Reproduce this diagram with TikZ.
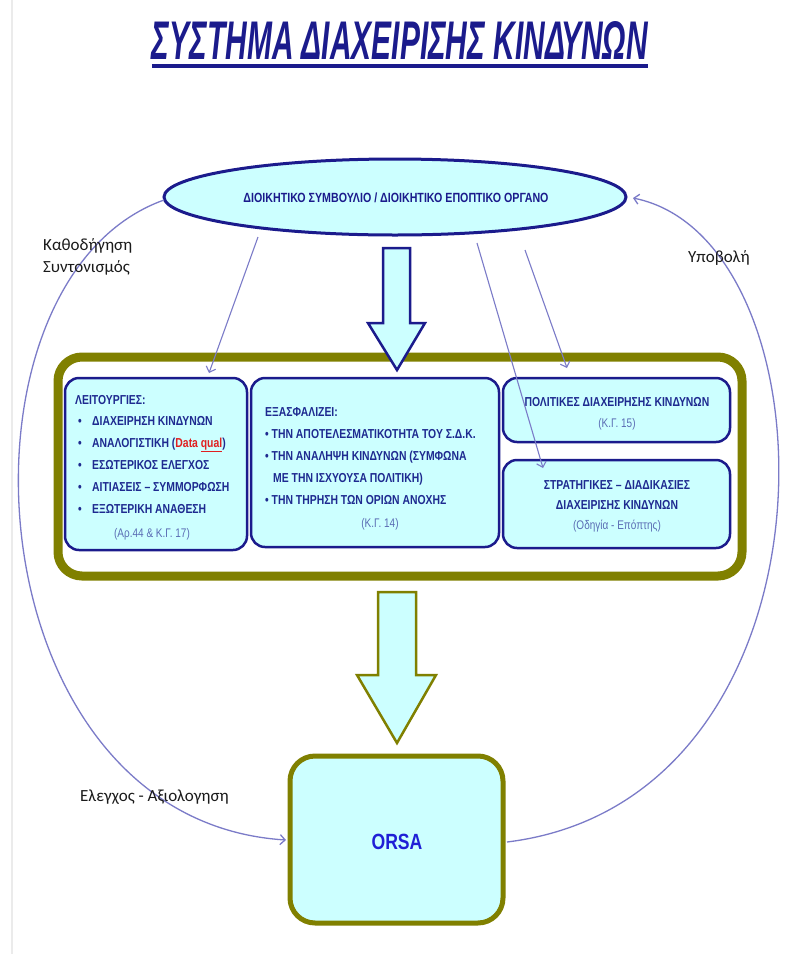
\documentclass[tikz,border=0pt]{standalone}
\usepackage{graphicx}
\usepackage{fontspec}
\setmainfont{Liberation Sans}
\newfontfamily\gfont[FakeStretch=0.8]{Liberation Sans}
\newfontfamily\lfont{Carlito}
\usetikzlibrary{shapes.geometric,arrows.meta}
\definecolor{navy}{HTML}{1B1B8C}
\definecolor{boxtxt}{HTML}{1E2A90}
\definecolor{lcyan}{HTML}{CCFFFF}
\definecolor{olive}{HTML}{808000}
\definecolor{refblue}{HTML}{5A6CB4}
\definecolor{conncol}{HTML}{7B7BC8}
\definecolor{orsablue}{HTML}{1F1FD6}
\definecolor{redtxt}{HTML}{E02020}
\definecolor{labtxt}{HTML}{1A1A1A}
\tikzset{
  inbox/.style={draw=navy, line width=2.5pt, fill=lcyan, rounded corners=14pt, inner sep=0pt},
  txt/.style={font=\fontsize{13}{13}\gfont\bfseries, text=boxtxt, inner sep=0pt},
  reftxt/.style={font=\fontsize{12.5}{12.5}\gfont, text=refblue, inner sep=0pt},
  conn/.style={draw=conncol, line width=1.3pt, -{Straight Barb[length=5pt,width=10pt]}},
  lab/.style={font=\fontsize{17}{22}\lfont, text=labtxt, inner sep=0pt, align=left},
  bigarrow/.style={line width=2.5pt, fill=lcyan, line join=miter}
}
\begin{document}
\begin{tikzpicture}[x=1pt,y=-1pt]
\useasboundingbox (0,0) rectangle (792,954);
\fill[white] (0,0) rectangle (792,954);
\draw[black!8, line width=1.5pt] (12,0) -- (12,954);

% title
\node[anchor=base, inner sep=0pt, text=navy] (title) at (400,59)
  {\resizebox{496pt}{38pt}{\bfseries\itshape ΣΥΣΤΗΜΑ ΔΙΑΧΕΙΡΙΣΗΣ ΚΙΝΔΥΝΩΝ}};
\draw[navy, line width=3.5pt] (title.south west) ++(0,7) coordinate (ul1) -- (title.south east |- ul1);

% ellipse
\node[ellipse, draw=navy, line width=3pt, fill=lcyan, minimum width=462pt, minimum height=76pt, inner sep=0pt] (E) at (395,197) {};
\node[inner sep=0pt, text=navy] (etext) at (396,198)
  {\resizebox{305pt}{!}{\fontsize{12}{12}\gfont\bfseries ΔΙΟΙΚΗΤΙΚΟ ΣΥΜΒΟΥΛΙΟ / ΔΙΟΙΚΗΤΙΚΟ ΕΠΟΠΤΙΚΟ ΟΡΓΑΝΟ}};

% ORSA box
\node[draw=olive, line width=5pt, fill=lcyan, rounded corners=25pt, minimum width=213pt, minimum height=167pt, inner sep=0pt] (orsa) at (396.5,839.5) {};
\node[font=\fontsize{22}{22}\gfont\bfseries, text=orsablue, inner sep=0pt] (orsatxt) at (397,842) {ORSA};

% curves
\coordinate (eW) at (164,200);
\coordinate (eE) at (633,198);
\coordinate (oW) at (286,840);
\coordinate (oE) at (507,842);
\draw[conn] (eW) .. controls (-60,280) and (-30,820) .. (oW);
\draw[conn] (oE) .. controls (850,800) and (840,240) .. (eE);

% labels
\node[lab, anchor=west] (l1) at (43,257) {Καθοδήγηση\\Συντονισμός};
\node[lab, anchor=west] (l2) at (80,797) {Ελεγχος - Αξιολογηση};
\node[lab, anchor=west] (l3) at (688,258) {Υποβολή};

% frame
\node[draw=olive, line width=9pt, fill=white, rounded corners=24pt, minimum width=684pt, minimum height=219pt, inner sep=0pt] (frame) at (400,466.5) {};

% inner boxes
\node[inbox, minimum width=182pt, minimum height=172pt] (A) at (156,464) {};
\node[inbox, minimum width=248pt, minimum height=169pt] (B) at (375,462.5) {};
\node[inbox, minimum width=227pt, minimum height=64pt] (C) at (616.5,410) {};
\node[inbox, minimum width=227pt, minimum height=88pt] (D) at (616.5,504) {};

% box A text
\node[txt, anchor=base west] (a0) at (75,404) {ΛΕΙΤΟΥΡΓΙΕΣ:};
\foreach \y/\t [count=\i] in {425/ΔΙΑΧΕΙΡΗΣΗ ΚΙΝΔΥΝΩΝ,
  447/{ΑΝΑΛΟΓΙΣΤΙΚΗ (\textcolor{redtxt}{Data \underline{qual}})},
  469/ΕΣΩΤΕΡΙΚΟΣ ΕΛΕΓΧΟΣ,
  491/ΑΙΤΙΑΣΕΙΣ – ΣΥΜΜΟΡΦΩΣΗ,
  513/ΕΞΩΤΕΡΙΚΗ ΑΝΑΘΕΣΗ}{
  \node[txt, anchor=base] (ab\i) at (80,\y) {•};
  \node[txt, anchor=base west] (a\i) at (92,\y) {\t};
}
\node[reftxt, anchor=base] (aref) at (152,537) {(Αρ.44 \& Κ.Γ. 17)};

% box B text
\node[txt, anchor=base west] (b0) at (265,416) {ΕΞΑΣΦΑΛΙΖΕΙ:};
\node[txt, anchor=base west] (b1) at (265,438) {• ΤΗΝ ΑΠΟΤΕΛΕΣΜΑΤΙΚΟΤΗΤΑ ΤΟΥ Σ.Δ.Κ.};
\node[txt, anchor=base west] (b2) at (265,460) {• ΤΗΝ ΑΝΑΛΗΨΗ ΚΙΝΔΥΝΩΝ (ΣΥΜΦΩΝΑ};
\node[txt, anchor=base west] (b3) at (273,482) {ΜΕ ΤΗΝ ΙΣΧΥΟΥΣΑ ΠΟΛΙΤΙΚΗ)};
\node[txt, anchor=base west] (b4) at (265,504) {• ΤΗΝ ΤΗΡΗΣΗ ΤΩΝ ΟΡΙΩΝ ΑΝΟΧΗΣ};
\node[reftxt, anchor=base] (bref) at (380,527) {(Κ.Γ. 14)};

% box C text
\node[txt, anchor=base] (c1) at (617,406) {ΠΟΛΙΤΙΚΕΣ ΔΙΑΧΕΙΡΗΣΗΣ ΚΙΝΔΥΝΩΝ};
\node[reftxt, anchor=base] (cref) at (617,427) {(Κ.Γ. 15)};

% box D text
\node[txt, anchor=base] (d1) at (617,489) {ΣΤΡΑΤΗΓΙΚΕΣ – ΔΙΑΔΙΚΑΣΙΕΣ};
\node[txt, anchor=base] (d2) at (617,509) {ΔΙΑΧΕΙΡΙΣΗΣ ΚΙΝΔΥΝΩΝ};
\node[reftxt, anchor=base] (dref) at (617,529) {(Οδηγία - Επόπτης)};

% big arrows
\draw[bigarrow, draw=navy] (383,248) -- (410,248) -- (410,323) -- (425,323) -- (397,370) -- (368,323) -- (383,323) -- cycle;
\draw[bigarrow, draw=olive] (378,592) -- (416,592) -- (416,675) -- (436,675) -- (397,743) -- (357,675) -- (378,675) -- cycle;

% thin arrows from the board
\coordinate (s1) at (258,237);
\coordinate (s2) at (477,243);
\coordinate (s3) at (525,250);
\coordinate (t1) at (209,373);
\coordinate (t2) at (543,468);
\coordinate (t3) at (567,368);
\draw[conn, line width=1.1pt] (s1) -- (t1);
\draw[conn, line width=1.1pt] (s2) -- (t2);
\draw[conn, line width=1.1pt] (s3) -- (t3);
\end{tikzpicture}
\end{document}
